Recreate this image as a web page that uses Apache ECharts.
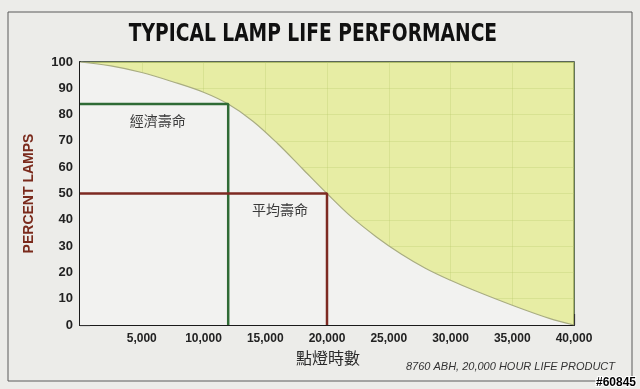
<!DOCTYPE html>
<html>
<head>
<meta charset="utf-8">
<script src="https://cdn.jsdelivr.net/npm/echarts@6/dist/echarts.min.js"></script>
<style>
html,body{margin:0;padding:0;background:#ecece9;}
#chart{width:640px;height:389px;}
</style>
</head>
<body>
<div id="chart"></div>
<script>
// ---- data ----
var hours = [0, 2500, 5000, 7500, 10000, 12000, 14000, 16000, 18000, 20000, 22000, 24000, 26000, 28000, 30000, 32000, 35000, 38000, 40000];
var percentLamps = [100, 98.5, 96, 92.5, 88.5, 84, 77.5, 69, 59.5, 50, 41, 33.5, 27, 21.5, 17, 13, 7.5, 2.5, 0];
var economicLife = [[0, 84], [12000, 84], [12000, 0]];
var averageLife = [[0, 50], [20000, 50], [20000, 0]];
var xTickValues = [0, 5000, 10000, 15000, 20000, 25000, 30000, 35000, 40000];
var xTickLabels = ['', '5,000', '10,000', '15,000', '20,000', '25,000', '30,000', '35,000', '40,000'];
var yTickValues = [0, 10, 20, 30, 40, 50, 60, 70, 80, 90, 100];
var yTickLabels = ['0', '10', '20', '30', '40', '50', '60', '70', '80', '90', '100'];
var economicLabel = {text: '經濟壽命', coord: [6300, 77.5]};
var averageLabel = {text: '平均壽命', coord: [16200, 44]};

var curve = hours.map(function (h, i) { return [h, percentLamps[i]]; });

var chart = echarts.init(document.getElementById('chart'), null, {renderer: 'canvas'});
var labelFont = 'Liberation Sans, Arial, sans-serif';
var cjk = '"Noto Sans CJK TC", "Noto Sans CJK SC", sans-serif';

chart.setOption({
  backgroundColor: '#ecece9',
  animation: false,
  grid: {left: 80, right: 66, top: 62, bottom: 64, show: true, backgroundColor: '#f2f2f0', borderColor: '#2a3a2a', borderWidth: 1.5},
  xAxis: {
    type: 'value', min: 0, max: 40000, interval: 5000,
    axisLine: {show: true, onZero: false, lineStyle: {color: '#1a1a1a', width: 2}},
    axisTick: {show: true, inside: true, length: 11, lineStyle: {color: '#333', width: 1.2}},
    axisLabel: {
      margin: 8, fontFamily: labelFont, fontWeight: 'bold', fontSize: 12, color: '#222',
      formatter: function (v) { var i = xTickValues.indexOf(v); return i >= 0 ? xTickLabels[i] : ''; }
    },
    splitLine: {show: true, lineStyle: {color: 'rgba(120,150,90,0.32)', width: 1}}
  },
  yAxis: {
    type: 'value', min: 0, max: 100, interval: 10,
    name: 'PERCENT LAMPS', nameLocation: 'middle', nameGap: 44, nameRotate: 90,
    nameTextStyle: {fontFamily: labelFont, fontWeight: 'bold', fontSize: 14, color: '#7a2a1c'},
    axisLine: {show: true, lineStyle: {color: '#1a1a1a', width: 2}},
    axisTick: {show: true, inside: true, length: 10, lineStyle: {color: '#333', width: 1.2}},
    axisLabel: {
      margin: 7, fontFamily: labelFont, fontWeight: 'bold', fontSize: 13, color: '#222',
      formatter: function (v) { var i = yTickValues.indexOf(v); return i >= 0 ? yTickLabels[i] : ''; }
    },
    splitLine: {show: true, lineStyle: {color: 'rgba(120,150,90,0.32)', width: 1}}
  },
  series: [
    {
      type: 'line', data: curve, smooth: 0.35, symbol: 'none', z: 2,
      lineStyle: {width: 0},
      areaStyle: {origin: 'start', color: '#f2f2f0', opacity: 1}
    },
    {
      type: 'line', data: curve, smooth: 0.35, symbol: 'none', z: 3,
      lineStyle: {color: '#a9ad82', width: 1.2},
      areaStyle: {origin: 'end', color: 'rgb(224,234,118)', opacity: 0.62}
    },
    {
      type: 'line', data: economicLife, symbol: 'none', z: 5,
      lineStyle: {color: '#2f6b35', width: 2.5}
    },
    {
      type: 'line', data: averageLife, symbol: 'none', z: 5,
      lineStyle: {color: '#7d2a22', width: 2.5},
      markPoint: {
        symbol: 'circle', symbolSize: 0,
        label: {show: true, position: 'inside', fontFamily: cjk, fontSize: 14, color: '#3a3a3a', formatter: '{b}'},
        data: [
          {name: economicLabel.text, coord: economicLabel.coord},
          {name: averageLabel.text, coord: averageLabel.coord}
        ]
      }
    }
  ],
  graphic: [
    {type: 'rect', shape: {x: 8, y: 12, width: 624, height: 369}, style: {fill: 'none', stroke: '#5a5a5a', lineWidth: 1}, z: 0},
    {type: 'text', x: 313, y: 34, originX: 0, originY: 0, scaleX: 0.83,
      style: {text: 'TYPICAL LAMP LIFE PERFORMANCE', x: 0, y: 0, textAlign: 'center', textVerticalAlign: 'middle',
        fontFamily: '"DejaVu Sans Condensed", "DejaVu Sans", sans-serif', fontWeight: 'bold', fontSize: 25, fill: '#111'}},
    {type: 'text', left: 296, top: 350, style: {text: '點燈時數', fontFamily: cjk, fontSize: 16, fill: '#2a2a2a'}},
    {type: 'text', right: 25, top: 361, style: {text: '8760 ABH, 20,000 HOUR LIFE PRODUCT', fontFamily: labelFont, fontStyle: 'italic', fontSize: 11, fill: '#333'}},
    {type: 'text', right: 3, top: 376, style: {text: '#60845', fontFamily: labelFont, fontWeight: 'bold', fontSize: 12, fill: '#000', stroke: '#fff', lineWidth: 2}}
  ]
});
</script>
</body>
</html>
